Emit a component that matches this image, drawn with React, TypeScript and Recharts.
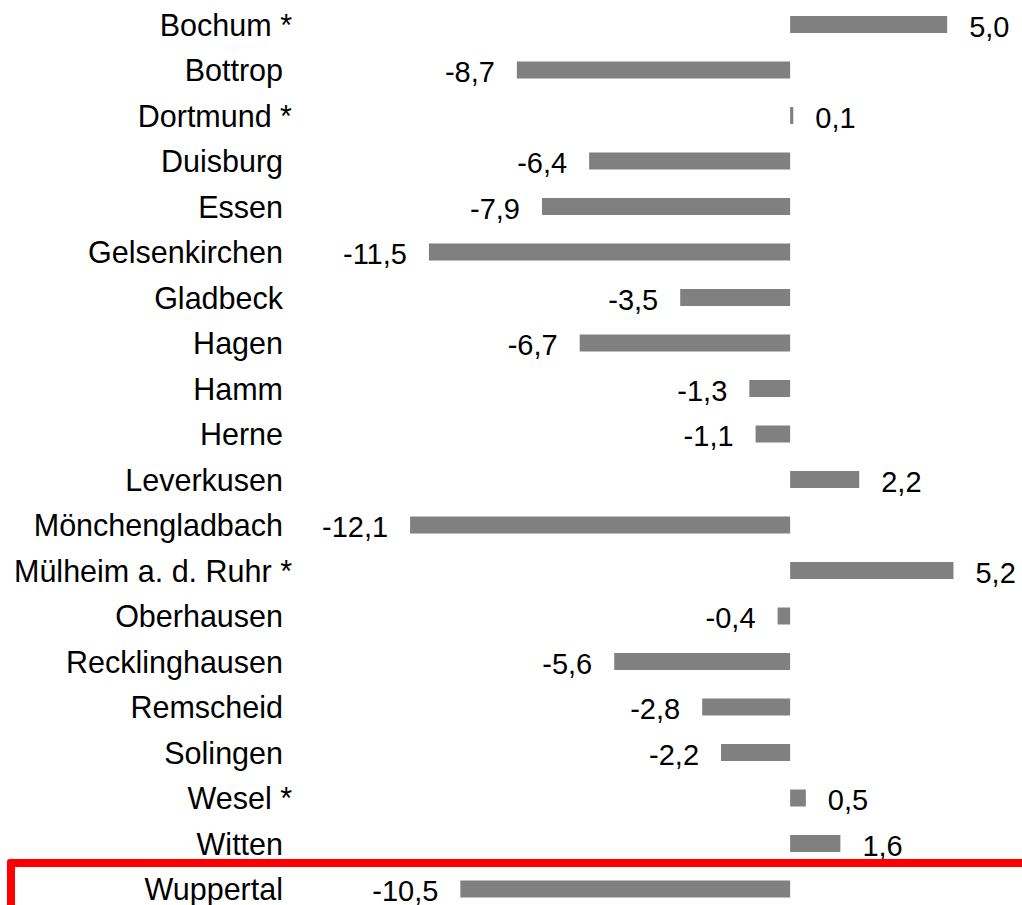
import React from 'react';
import { BarChart, Bar, XAxis, YAxis, LabelList } from 'recharts';

const cities = [
  'Bochum *',
  'Bottrop',
  'Dortmund *',
  'Duisburg',
  'Essen',
  'Gelsenkirchen',
  'Gladbeck',
  'Hagen',
  'Hamm',
  'Herne',
  'Leverkusen',
  'Mönchengladbach',
  'Mülheim a. d. Ruhr *',
  'Oberhausen',
  'Recklinghausen',
  'Remscheid',
  'Solingen',
  'Wesel *',
  'Witten',
  'Wuppertal',
];

const changes = [
  5.0, -8.7, 0.1, -6.4, -7.9, -11.5, -3.5, -6.7, -1.3, -1.1,
  2.2, -12.1, 5.2, -0.4, -5.6, -2.8, -2.2, 0.5, 1.6, -10.5,
];

const xDomain = [-15, 7];

const data = cities.map((city, i) => ({ city, value: changes[i] }));

const FONT = '"Liberation Sans", Arial, Helvetica, sans-serif';

const fmt = (v: number) => v.toFixed(1).replace('.', ',');

function CityTick(props: any) {
  const { x, y, payload } = props;
  const name = String(payload.value);
  const shift = name.endsWith('*') ? 0 : -9;
  return (
    <text
      x={x + shift}
      y={y}
      dy="0.355em"
      textAnchor="end"
      fontSize={30.5}
      fontFamily={FONT}
      fill="#000"
    >
      {name}
    </text>
  );
}

function ValueLabel(props: any) {
  const { x, y, width, height, value } = props;
  const v = Number(value);
  const left = Math.min(x, x + width);
  const right = Math.max(x, x + width);
  const pos = v >= 0;
  return (
    <text
      x={pos ? right + 22 : left - 22}
      y={y + height / 2 + 2}
      dy="0.355em"
      textAnchor={pos ? 'start' : 'end'}
      fontSize={29}
      fontFamily={FONT}
      fill="#000"
    >
      {fmt(v)}
    </text>
  );
}

export default function App() {
  return (
    <div
      style={{
        position: 'fixed',
        left: 0,
        top: 0,
        width: 1022,
        height: 905,
        overflow: 'hidden',
        background: '#fff',
      }}
    >
      <BarChart
        width={1022}
        height={912}
        data={data}
        layout="vertical"
        margin={{ top: 2, right: 12, bottom: 0, left: 0 }}
        barCategoryGap={0}
      >
        <XAxis type="number" domain={xDomain} hide allowDataOverflow />
        <YAxis
          type="category"
          dataKey="city"
          width={319}
          axisLine={false}
          tickLine={false}
          tickSize={0}
          tickMargin={27}
          interval={0}
          tick={<CityTick />}
        />
        <Bar dataKey="value" fill="#808080" barSize={17} isAnimationActive={false}>
          <LabelList dataKey="value" content={<ValueLabel />} />
        </Bar>
      </BarChart>
      <div
        style={{
          position: 'absolute',
          left: 7,
          top: 859,
          width: 1100,
          height: 200,
          border: '8px solid #ff0000',
          borderRadius: 3,
          boxSizing: 'border-box',
        }}
      />
    </div>
  );
}
